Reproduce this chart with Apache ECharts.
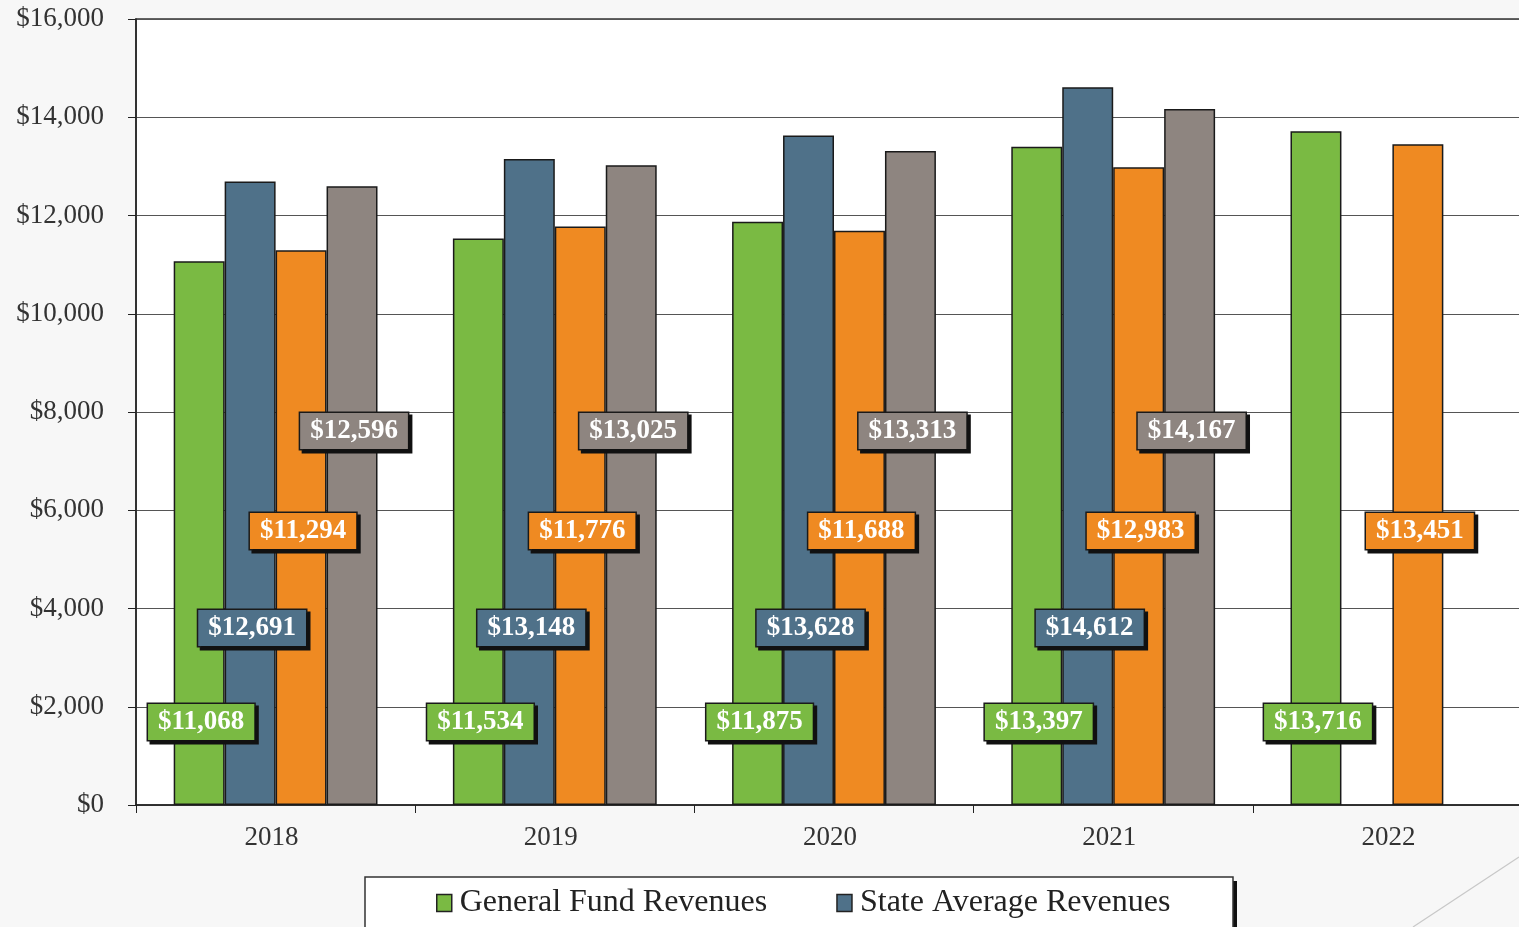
<!DOCTYPE html>
<html>
<head>
<meta charset="utf-8">
<script src="https://cdn.jsdelivr.net/npm/echarts@6/dist/echarts.min.js"></script>
<style>
  html, body { margin: 0; padding: 0; background: #f7f7f7; overflow: hidden; }
  #chart { width: 1532px; height: 927px; }
</style>
</head>
<body>
<div id="chart"></div>
<script>
const years = ["2018", "2019", "2020", "2021", "2022"];
const generalFund = [11068, 11534, 11875, 13397, 13716];
const stateAverage = [12691, 13148, 13628, 14612, null];
const orangeSeries = [11294, 11776, 11688, 12983, 13451];
const graySeries = [12596, 13025, 13313, 14167, null];
const legendNames = ["General Fund Revenues", "State Average Revenues"];

const FONT = "'Liberation Serif', 'Times New Roman', serif";
const money = (v) => "$" + String(v).replace(/\B(?=(\d{3})+(?!\d))/g, ",");

const chart = echarts.init(document.getElementById("chart"));

// value labels sit at a fixed height above the axis, not at the bar top
const makeSeries = (name, data, color, lift) => ({
  name,
  type: "bar",
  data,
  barGap: "0%",
  barCategoryGap: "27%",
  itemStyle: { color, borderColor: "#1a1a1a", borderWidth: 1.5 },
  label: {
    show: true,
    position: "insideBottom",
    distance: 0,
    offset: [2, -lift],
    formatter: (p) => money(p.value),
    color: "#fff",
    fontFamily: FONT,
    fontWeight: "bold",
    fontSize: 27,
    lineHeight: 30,
    padding: [3, 10, 3, 10],
    backgroundColor: color,
    borderColor: "#1a1a1a",
    borderWidth: 1.5,
    shadowColor: "#111",
    shadowOffsetX: 3,
    shadowOffsetY: 3,
    shadowBlur: 0,
  },
  emphasis: { disabled: true },
});

chart.setOption({
  backgroundColor: "#f7f7f7",
  animation: false,
  grid: {
    left: 136,
    top: 19,
    right: 0,
    bottom: 122,
    show: true,
    backgroundColor: "#fff",
    borderColor: "#333",
    borderWidth: 1.5,
  },
  legend: {
    data: legendNames.map((n) => ({ name: n })),
    left: 365,
    top: 877,
    orient: "horizontal",
    itemWidth: 15,
    itemHeight: 17,
    itemGap: 69,
    icon: "rect",
    padding: [10, 60, 10, 71],
    itemStyle: { borderColor: "#222", borderWidth: 1.5 },
    textStyle: { fontFamily: FONT, fontSize: 32, color: "#222", padding: [0, 0, 0, 3] },
  },
  xAxis: {
    type: "category",
    data: years,
    axisLine: { lineStyle: { color: "#222", width: 1.5 } },
    axisTick: { show: true, length: 8, lineStyle: { color: "#222" } },
    axisLabel: {
      fontFamily: FONT,
      fontSize: 27,
      color: "#333",
      margin: 19,
      padding: [0, 8, 0, 0],
    },
  },
  yAxis: {
    type: "value",
    min: 0,
    max: 16000,
    interval: 2000,
    axisLine: { show: true, lineStyle: { color: "#222", width: 1.5 } },
    axisTick: { show: true, length: 8, lineStyle: { color: "#222" } },
    axisLabel: {
      fontFamily: FONT,
      fontSize: 27,
      color: "#333",
      margin: 32,
      formatter: (v) => money(v),
    },
    splitLine: { lineStyle: { color: "#555", width: 1.2 } },
  },
  series: [
    makeSeries(legendNames[0], generalFund, "#7aba43", 65),
    makeSeries(legendNames[1], stateAverage, "#4f7189", 159),
    makeSeries("Series 3", orangeSeries, "#ef8a22", 256),
    makeSeries("Series 4", graySeries, "#8e8580", 356),
  ],
  graphic: [
    // legend frame with its drop shadow
    {
      type: "rect",
      shape: { x: 369, y: 881, width: 868, height: 80 },
      style: { fill: "#111" },
      silent: true,
    },
    {
      type: "rect",
      shape: { x: 365, y: 877, width: 868, height: 80 },
      style: { fill: "#fff", stroke: "#333", lineWidth: 1.5 },
      silent: true,
    },
    {
      type: "line",
      shape: { x1: 1413, y1: 927, x2: 1519, y2: 857 },
      style: { stroke: "#c8c8c8", lineWidth: 1.2 },
      silent: true,
    },
  ],
});
</script>
</body>
</html>
